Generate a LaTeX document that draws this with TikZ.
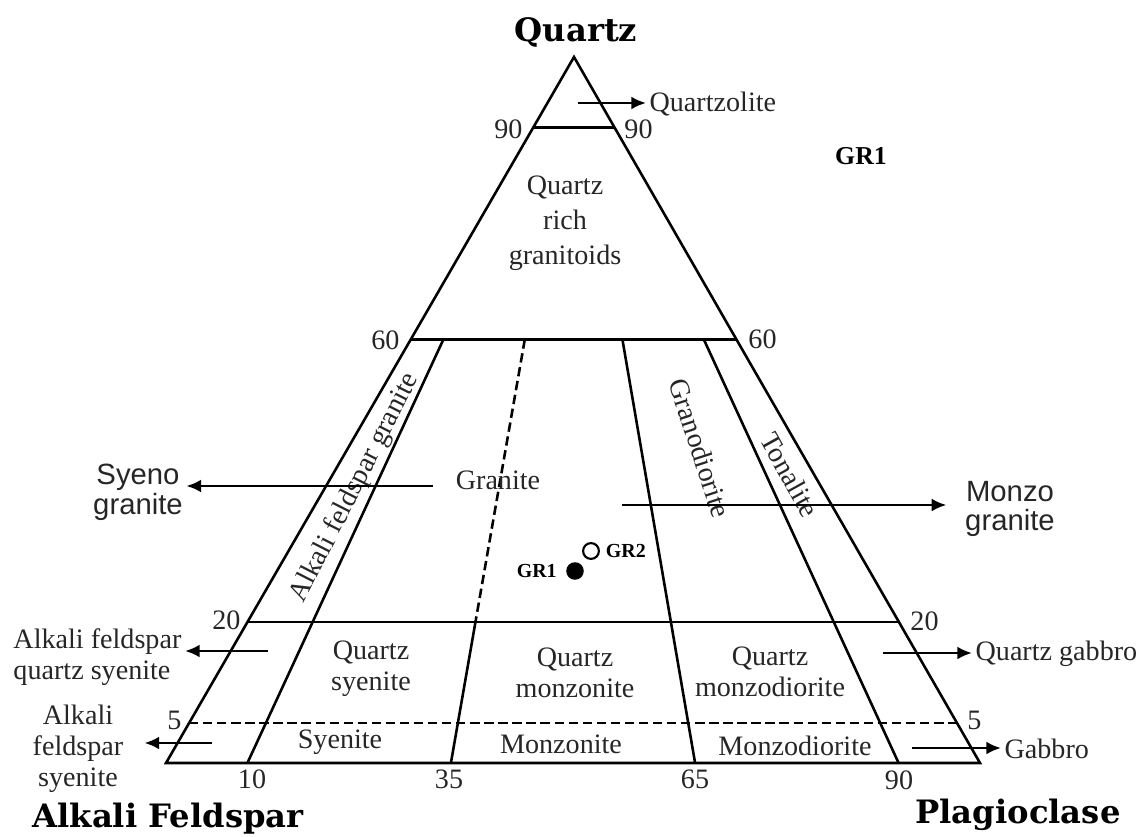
\documentclass[tikz,border=0pt]{standalone}
\usepackage{fontspec}
\setmainfont{Liberation Serif}
\newfontfamily\cornerfont{DejaVu Serif}
\newfontfamily\rocksans{Liberation Sans}
\usetikzlibrary{arrows.meta,positioning}

\begin{document}
\begin{tikzpicture}[x=0.03cm, y=-0.03cm, line width=2.2pt, >={Latex[length=12.5pt,width=11pt]},
    field/.style={font=\fontsize{24}{26.5}\selectfont, align=center, text=black!85, inner sep=2pt},
    tick/.style={font=\fontsize{24}{26.5}\selectfont, text=black!85, inner sep=1pt},
    corner/.style={font=\cornerfont\bfseries\fontsize{27.5}{30}\selectfont, inner sep=0pt},
    rock/.style={font=\rocksans\fontsize{25}{25.5}\selectfont, align=center, text=black!85, inner sep=2pt},
    sample/.style={font=\bfseries\fontsize{17}{18}\selectfont, inner sep=1pt},
    boundary/.style={dash pattern=on 8pt off 4pt},
    plotted/.style={circle, inner sep=0pt}]
    \useasboundingbox (0,0) rectangle (1142,837);
    \draw (574,57) -- (166,763) -- (980,763) -- cycle;
    \draw (533.2,127.6) -- (614.8,127.6);
    \draw (410.8,339.4) -- (737.2,339.4);
    \draw (247.6,621.8) -- (900.4,621.8);
    \draw[boundary] (189,723) -- (957,723);
    \draw (443.4,339.4) -- (247.4,763);
    \draw[boundary] (524.8,339.4) -- (475.5,621.8);
    \draw (475.5,621.8) -- (450.9,763);
    \draw (622.4,339.4) -- (695.1,763);
    \draw (703.8,339.4) -- (898.6,763);

    \node[corner] (quartz) at (576,32) {Quartz};
    \node[corner] (alkali) at (168,819) {Alkali Feldspar};
    \node[corner] (plag) at (1018,815) {Plagioclase};

    \node[tick, anchor=east] (q90l) at (525,129) {90};
    \node[tick, anchor=west] (q90r) at (622,129) {90};
    \node[tick, anchor=east] (q60l) at (402,340) {60};
    \node[tick, anchor=west] (q60r) at (746,339) {60};
    \node[tick, anchor=east] (q20l) at (243,620) {20};
    \node[tick, anchor=west] (q20r) at (908,621) {20};
    \node[tick, anchor=east] (q5l) at (184,720) {5};
    \node[tick, anchor=west] (q5r) at (965,720) {5};
    \node[tick] (p10) at (252,779) {10};
    \node[tick] (p35) at (449,779) {35};
    \node[tick] (p65) at (695,779) {65};
    \node[tick] (p90) at (899,780) {90};

    \node[field, font=\fontsize{24}{30}\selectfont] (qrg) at (565,223) {Quartz\\rich\\granitoids};
    \node[field] (granite) at (498,480) {Granite};
    \node[field, rotate=63] (afg) at (355,488) {Alkali feldspar granite};
    \node[field, rotate=-72] (grd) at (700,448) {Granodiorite};
    \node[field, rotate=-61] (ton) at (790,475) {Tonalite};
    \node[field] (qsy) at (371,669) {Quartz\\syenite};
    \node[field] (qmz) at (575,673) {Quartz\\monzonite};
    \node[field] (qmd) at (770,672) {Quartz\\monzodiorite};
    \node[field] (sye) at (340,742) {Syenite};
    \node[field] (mzn) at (561,744) {Monzonite};
    \node[field] (mzd) at (795,746) {Monzodiorite};

    \node[plotted, fill, minimum size=15pt] (gr1) at (575,571) {};
    \node[plotted, draw, line width=1.8pt, minimum size=13.5pt] (gr2) at (591,551) {};
    \node[sample, left=5pt of gr1] (gr1lab) {GR1};
    \node[sample, right=3pt of gr2] (gr2lab) {GR2};
    \node[sample, font=\bfseries\fontsize{22}{24}\selectfont] (key) at (861,156) {GR1};

    \coordinate (qzl-tail) at (578,103);
    \node[field, anchor=west] (qzl) at (646,104) {Quartzolite};
    \draw[->] (qzl-tail) -- (qzl-tail -| qzl.west);

    \coordinate (syg-tail) at (433,486);
    \node[rock] (syg) at (138,492) {Syeno\\granite};
    \draw[->] (syg-tail) -- (syg-tail -| syg.east);

    \coordinate (mzg-tail) at (622,505);
    \node[rock] (mzg) at (1010,509) {Monzo\\granite};
    \draw[->, shorten >=13pt] (mzg-tail) -- (mzg-tail -| mzg.west);

    \coordinate (afqs-tail) at (268,651);
    \node[field, align=left, anchor=east] (afqs) at (185,657) {Alkali feldspar\\quartz syenite};
    \draw[->] (afqs-tail) -- (afqs-tail -| afqs.east);

    \coordinate (afs-tail) at (212,743);
    \node[field] (afs) at (78,749) {Alkali\\feldspar\\syenite};
    \draw[->, shorten >=15pt] (afs-tail) -- (afs-tail -| afs.east);

    \coordinate (qgb-tail) at (883,653);
    \node[field, anchor=west] (qgb) at (972,654) {Quartz gabbro};
    \draw[->] (qgb-tail) -- (qgb-tail -| qgb.west);

    \coordinate (gab-tail) at (912,748);
    \node[field, anchor=west] (gab) at (1001,749) {Gabbro};
    \draw[->] (gab-tail) -- (gab-tail -| gab.west);
\end{tikzpicture}
\end{document}
